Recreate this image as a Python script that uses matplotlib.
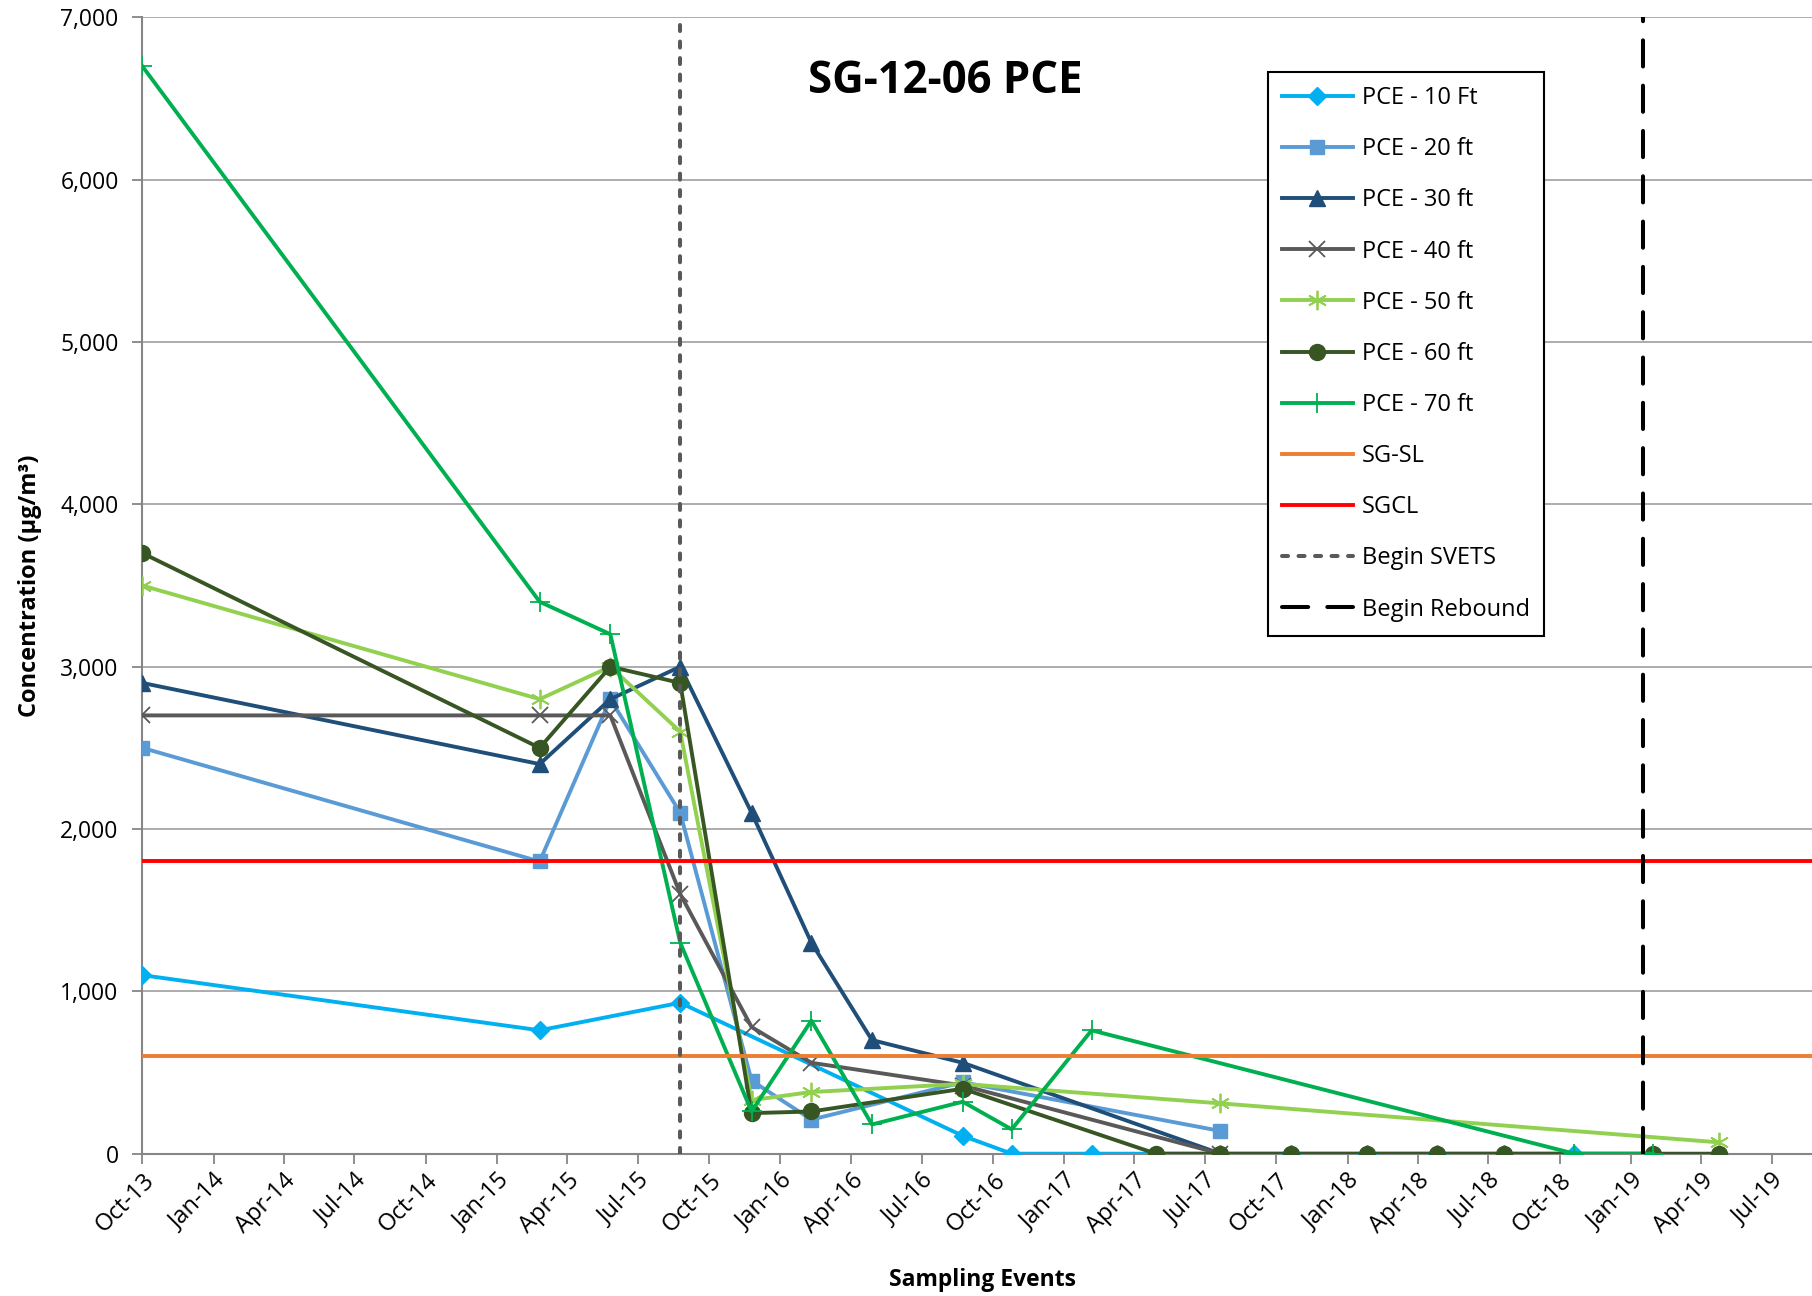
import numpy as np
import pandas as pd
import matplotlib
matplotlib.use('Agg')
import matplotlib.pyplot as plt
import matplotlib.dates as mdates

plt.rcParams['font.family'] = ['Open Sans', 'DejaVu Sans']

# sampling event dates
dates = ['2013-10-01', '2015-02-25', '2015-05-27', '2015-08-25', '2015-11-25',
         '2016-02-10', '2016-04-28', '2016-08-23', '2016-10-25', '2017-02-05',
         '2017-04-29', '2017-07-21', '2017-10-20', '2018-01-26', '2018-04-26',
         '2018-07-21', '2018-10-20', '2019-01-29', '2019-04-24']

N = None
pce_10 = [1100, 760, N, 930, N, N, N, 110, 0, 0, N, 0, 0, 0, 0, 0, 0, N, N]
pce_20 = [2500, 1800, 2800, 2100, 450, 210, N, 440, N, N, N, 140, N, N, N, N, N, N, N]
pce_30 = [2900, 2400, 2800, 3000, 2100, 1300, 700, 560, N, N, N, 0, N, N, N, N, N, N, N]
pce_40 = [2700, 2700, 2700, 1600, 780, 560, N, 420, N, N, N, 0, N, N, N, N, N, N, N]
pce_50 = [3500, 2800, 3000, 2600, 330, 380, N, 430, N, N, N, 310, N, N, N, N, N, N, 70]
pce_60 = [3700, 2500, 3000, 2900, 250, 260, N, 400, N, N, 0, 0, 0, 0, 0, 0, N, 0, 0]
pce_70 = [6700, 3400, 3200, 1300, 260, 820, 180, 320, 150, 760, N, N, N, N, N, N, 0, 0, N]

sg_sl = 600
sgcl = 1800
begin_svets = '2015-08-25'
begin_rebound = '2019-01-16'

series = [
    ('PCE - 10 Ft', pce_10, '#00B0F0', 'D', 9.5, 1),
    ('PCE - 20 ft', pce_20, '#5B9BD5', 's', 10.5, 1),
    ('PCE - 30 ft', pce_30, '#1F4E79', '^', 11, 1),
    ('PCE - 40 ft', pce_40, '#595959', 'x', 11, 1.3),
    ('PCE - 50 ft', pce_50, '#92D050', (6, 2, 0), 14, 1.3),
    ('PCE - 60 ft', pce_60, '#375623', 'o', 11.5, 1),
    ('PCE - 70 ft', pce_70, '#00B050', '+', 14, 1.3),
]

x_all = pd.to_datetime(dates)

fig = plt.figure(figsize=(18.12, 12.96), dpi=100)
ax = fig.add_axes([0.0785, 0.1098, 0.9215, 0.8768])

for label, vals, color, marker, ms, mew in series:
    v = np.array([np.nan if a is None else a for a in vals], dtype=float)
    m = ~np.isnan(v)
    ax.plot(x_all[m], v[m], color=color, lw=2.8, marker=marker, markersize=ms,
            markeredgewidth=mew, markeredgecolor=color, markerfacecolor=color,
            label=label, zorder=3)

ax.axhline(sg_sl, color='#ED7D31', lw=2.8, label='SG-SL', zorder=4)
ax.axhline(sgcl, color='#FF0000', lw=2.8, label='SGCL', zorder=4)
ax.axvline(pd.Timestamp(begin_svets), color='#595959', lw=2.9, ls=(0, (1.5, 2.6)),
           dash_capstyle='round', label='Begin SVETS', zorder=4)
ax.axvline(pd.Timestamp(begin_rebound), color='black', lw=2.9, ls=(0, (6.5, 4.75)),
           dash_capstyle='round', label='Begin Rebound', zorder=4)

ax.set_xlim(pd.Timestamp('2013-10-01'), pd.Timestamp('2019-08-22'))
ax.set_ylim(0, 7000)
ax.set_yticks(np.arange(0, 7001, 1000))
ax.yaxis.set_major_formatter(matplotlib.ticker.FuncFormatter(lambda v, p: f'{int(v):,}'))
ax.xaxis.set_major_locator(mdates.MonthLocator(bymonth=(1, 4, 7, 10), bymonthday=1))
ax.xaxis.set_major_formatter(mdates.DateFormatter('%b-%y'))

ax.grid(axis='y', color='#A6A6A6', lw=1.3, zorder=0)
ax.set_axisbelow(True)
for s in ['top', 'right']:
    ax.spines[s].set_visible(False)
for s in ['left', 'bottom']:
    ax.spines[s].set_color('#868686')
    ax.spines[s].set_linewidth(1.5)
ax.tick_params(axis='both', colors='#868686', length=7, width=1.3, labelcolor='black',
               labelsize=16.5)
ax.tick_params(axis='y', pad=10)
plt.setp(ax.get_xticklabels(), rotation=45, ha='right', rotation_mode='anchor',
         fontsize=17)

ax.set_ylabel('Concentration (µg/m³)', fontsize=17, fontweight='bold')
ax.yaxis.set_label_coords(-0.060, 0.5)
ax.set_xlabel('Sampling Events', fontsize=16.5, fontweight='bold')
ax.xaxis.set_label_coords(0.503, -0.101)

ax.text(0.481, 0.944, 'SG-12-06 PCE', transform=ax.transAxes, ha='center', va='center',
        fontsize=31.5, fontweight='bold')

leg = ax.legend(loc='upper left', bbox_to_anchor=(0.674, 0.952), borderaxespad=0,
                fontsize=17, labelspacing=1.15, handlelength=3.0, handletextpad=0.4,
                fancybox=False, edgecolor='black', framealpha=1, borderpad=0.6)
leg.get_frame().set_linewidth(1.5)

fig.savefig('out.png', dpi=100)
